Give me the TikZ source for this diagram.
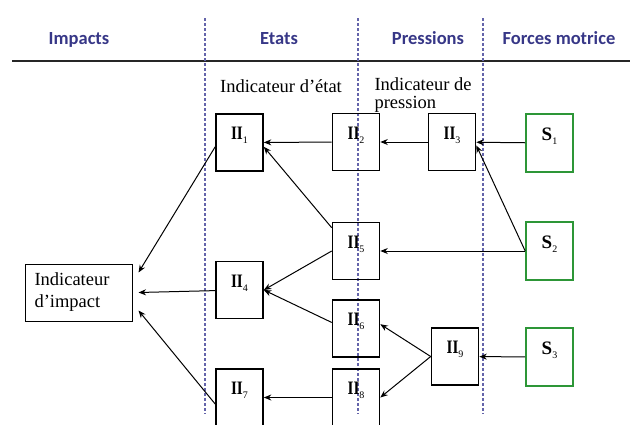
\documentclass[tikz,border=0pt]{standalone}
\usepackage{fontspec}
\setmainfont{Liberation Serif}
\newfontfamily\headfont{Carlito}
\usepackage{graphicx}
\usetikzlibrary{arrows.meta}

\definecolor{headblue}{RGB}{55,55,135}
\definecolor{sepblue}{RGB}{100,100,170}
\definecolor{forcegreen}{RGB}{45,150,55}

% box labels: bold letter(s) with a small index
\newcommand{\indlab}[1]{\textbf{\scalebox{0.8}[1]{II}}\raisebox{-4pt}{\fontsize{10}{10}\selectfont #1}}
\newcommand{\forcelab}[1]{\textbf{S}\raisebox{-4pt}{\fontsize{10}{10}\selectfont #1}}

\begin{document}
\begin{tikzpicture}[x=1pt,y=1pt,>={Stealth[length=7.5pt,width=6pt]},line width=1pt,
  indic/.style={rectangle,draw,line width=1.6pt,minimum width=47pt,minimum height=57pt,
    text height=10pt,text depth=16pt,font=\fontsize{19}{19}\selectfont},
  force/.style={indic,draw=forcegreen,minimum height=58pt},
  head/.style={anchor=base,text=headblue,font=\headfont\bfseries\fontsize{18.5}{20}\selectfont},
  note/.style={inner sep=0pt,font=\fontsize{18.5}{18}\selectfont}]

  \useasboundingbox (0,0) rectangle (630,-424);
  \clip (0,0) rectangle (630,-424);

  % column titles
  \node[head] (impacts) at (79,-44) {Impacts};
  \node[head] (etats) at (279,-44) {Etats};
  \node[head] (pressions) at (428,-44) {Pressions};
  \node[head] (forces) at (559,-44) {Forces motrice};
  \draw[line width=1.5pt,black!85] (12,-61) -- (630,-61);
  \foreach \x in {205,358,483}
    \draw[sepblue,line width=1.3pt,dash pattern=on 3pt off 2pt] (\x,-18) -- (\x,-414);

  \node[note,anchor=base] (etat) at (281,-92) {Indicateur d’état};
  \node[note,anchor=north west,align=left] (pression) at (374,-77) {Indicateur de\\pression};

  % impact
  \node[draw,line width=1pt,minimum width=107pt,minimum height=57pt,text width=88pt,
    align=left,font=\fontsize{18.5}{22}\selectfont] (imp) at (78.5,-292.5) {Indicateur\\d’impact};

  % state and pressure indicators
  \node[indic] (II1) at (239.5,-142.5) {\indlab{1}};
  \node[indic] (II2) at (356,-142) {\indlab{2}};
  \node[indic] (II3) at (452,-142) {\indlab{3}};
  \node[indic] (II4) at (239.5,-290) {\indlab{4}};
  \node[indic] (II5) at (356,-251) {\indlab{5}};
  \node[indic] (II6) at (356,-328.5) {\indlab{6}};
  \node[indic] (II7) at (239.5,-397.5) {\indlab{7}};
  \node[indic] (II8) at (356,-397.5) {\indlab{8}};
  \node[indic] (II9) at (455,-356.5) {\indlab{9}};

  % driving forces
  \node[force] (S1) at (549.5,-143) {\forcelab{1}};
  \node[force] (S2) at (549.5,-251) {\forcelab{2}};
  \node[force] (S3) at (549.5,-357) {\forcelab{3}};

  \path[->]
    (S1) edge (II3)
    (S2.west) edge (II3.-8)
    (S2) edge (II5)
    (S3) edge (II9)
    (II3) edge (II2)
    (II2) edge (II1)
    ([yshift=-6pt]II5.north west) edge (II1.-10)
    (II5.west) edge (II4.east)
    (II6.166) edge (II4.east)
    (II9.west) edge (II6.10)
    (II9.west) edge (II8.east)
    (II8) edge (II7)
    (II1.190) edge ([xshift=6pt,yshift=-9pt]imp.north east)
    (II4) edge ([xshift=6pt]imp.east)
    (II7.195) edge ([xshift=6pt,yshift=11pt]imp.south east);
\end{tikzpicture}
\end{document}
